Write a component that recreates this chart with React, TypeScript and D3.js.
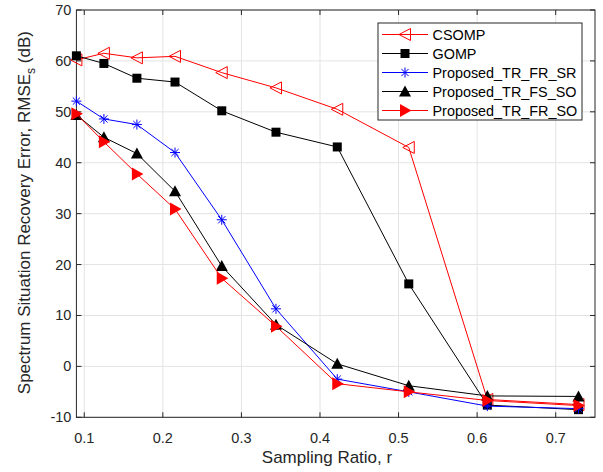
import React, { useEffect, useRef } from 'react'
import * as d3 from 'd3'

// sampling ratios (x positions shared by every curve)
const RATIOS = [0.09, 0.125, 0.167, 0.2155, 0.275, 0.344, 0.422, 0.513, 0.613, 0.729]

const CSOMP = [60.2, 61.5, 60.6, 60.9, 57.7, 54.7, 50.5, 43.0, -6.5, -7.5]
const GOMP = [61.0, 59.5, 56.6, 55.85, 50.2, 46.0, 43.1, 16.2, -7.6, -8.5]
const TR_FR_SR = [52.1, 48.6, 47.5, 42.0, 28.8, 11.3, -2.5, -5.0, -7.8, -8.3]
const TR_FS_SO = [49.4, 45.0, 41.8, 34.4, 19.7, 8.2, 0.5, -3.8, -5.8, -5.9]
const TR_FR_SO = [49.6, 44.1, 37.8, 30.9, 17.3, 7.9, -3.4, -5.0, -6.7, -7.7]

const X_TICKS = [0.1, 0.2, 0.3, 0.4, 0.5, 0.6, 0.7]
const Y_TICKS = [-10, 0, 10, 20, 30, 40, 50, 60, 70]

const SERIES = [
  { name: 'CSOMP', values: CSOMP, color: '#ff0000', marker: 'triLeftOpen' },
  { name: 'GOMP', values: GOMP, color: '#000000', marker: 'square' },
  { name: 'Proposed_TR_FR_SR', values: TR_FR_SR, color: '#0000ff', marker: 'star' },
  { name: 'Proposed_TR_FS_SO', values: TR_FS_SO, color: '#000000', marker: 'triUp' },
  { name: 'Proposed_TR_FR_SO', values: TR_FR_SO, color: '#ff0000', marker: 'triRight' },
]

const TEXT = '#262626'
const GRID = '#e3e3e3'
const FONT = 'Liberation Sans, Arial, Helvetica, sans-serif'

function drawMarker(g: any, kind: string, x: number, y: number, color: string) {
  if (kind === 'square') {
    g.append('rect').attr('x', x - 4.5).attr('y', y - 4.5).attr('width', 9).attr('height', 9).attr('fill', color)
  } else if (kind === 'triUp') {
    g.append('path').attr('d', `M${x},${y - 6}L${x + 6},${y + 5}L${x - 6},${y + 5}Z`).attr('fill', color)
  } else if (kind === 'triRight') {
    g.append('path').attr('d', `M${x + 6.5},${y}L${x - 5},${y - 6.5}L${x - 5},${y + 6.5}Z`).attr('fill', color)
  } else if (kind === 'triLeftOpen') {
    g.append('path').attr('d', `M${x - 6},${y}L${x + 5.5},${y - 6}L${x + 5.5},${y + 6}Z`)
      .attr('fill', 'none').attr('stroke', color).attr('stroke-width', 1)
  } else if (kind === 'star') {
    const r = 5
    const d = r * 0.72
    g.append('path')
      .attr('d', `M${x - r},${y}L${x + r},${y}M${x},${y - r}L${x},${y + r}M${x - d},${y - d}L${x + d},${y + d}M${x - d},${y + d}L${x + d},${y - d}`)
      .attr('stroke', color).attr('stroke-width', 1).attr('fill', 'none')
  }
}

export default function App() {
  const svgRef = useRef<SVGSVGElement>(null)

  useEffect(() => {
    if (!svgRef.current) return
    const W = 603
    const H = 472
    const left = 76.4, right = 595, top = 10, bottom = 417.3

    const svg = d3.select(svgRef.current)
    svg.selectAll('*').remove()
    svg.attr('width', W).attr('height', H)

    const x = d3.scaleLinear().domain([0.09, 0.75]).range([left, right])
    const y = d3.scaleLinear().domain([-10, 70]).range([bottom, top])

    svg.append('rect').attr('width', W).attr('height', H).attr('fill', '#ffffff')

    // grid
    const grid = svg.append('g')
    X_TICKS.forEach(t => {
      grid.append('line').attr('x1', x(t)).attr('x2', x(t)).attr('y1', top).attr('y2', bottom)
        .attr('stroke', GRID).attr('stroke-width', 1)
    })
    Y_TICKS.forEach(t => {
      grid.append('line').attr('x1', left).attr('x2', right).attr('y1', y(t)).attr('y2', y(t))
        .attr('stroke', GRID).attr('stroke-width', 1)
    })

    // axes box + inward ticks (MATLAB style)
    const ax = svg.append('g')
    ax.append('rect').attr('x', left).attr('y', top).attr('width', right - left).attr('height', bottom - top)
      .attr('fill', 'none').attr('stroke', TEXT).attr('stroke-width', 1)
    X_TICKS.forEach(t => {
      ax.append('line').attr('x1', x(t)).attr('x2', x(t)).attr('y1', bottom).attr('y2', bottom - 5).attr('stroke', TEXT)
      ax.append('line').attr('x1', x(t)).attr('x2', x(t)).attr('y1', top).attr('y2', top + 5).attr('stroke', TEXT)
      ax.append('text').attr('x', x(t)).attr('y', bottom + 26).attr('text-anchor', 'middle')
        .attr('fill', TEXT).attr('font-size', 14.5).attr('font-family', FONT).text(d3.format('.1f')(t))
    })
    Y_TICKS.forEach(t => {
      ax.append('line').attr('x1', left).attr('x2', left + 5).attr('y1', y(t)).attr('y2', y(t)).attr('stroke', TEXT)
      ax.append('line').attr('x1', right).attr('x2', right - 5).attr('y1', y(t)).attr('y2', y(t)).attr('stroke', TEXT)
      ax.append('text').attr('x', left - 5).attr('y', y(t) + 5).attr('text-anchor', 'end')
        .attr('fill', TEXT).attr('font-size', 14.5).attr('font-family', FONT).text(String(t))
    })

    // axis labels
    svg.append('text').attr('x', 327).attr('y', 463).attr('text-anchor', 'middle')
      .attr('fill', TEXT).attr('font-size', 17).attr('font-family', FONT).text('Sampling Ratio, r')
    const yl = svg.append('text')
      .attr('transform', `translate(30,${(top + bottom) / 2 - 1}) rotate(-90)`)
      .attr('text-anchor', 'middle').attr('fill', TEXT).attr('font-size', 17).attr('font-family', FONT)
    yl.append('tspan').text('Spectrum Situation Recovery Error, RMSE')
    yl.append('tspan').attr('font-size', 12).attr('dy', 5).text('s')
    yl.append('tspan').attr('dy', -5).text(' (dB)')

    // series
    const line = d3.line<number>().x((_, i) => x(RATIOS[i])).y(d => y(d))
    SERIES.forEach(s => {
      const g = svg.append('g')
      g.append('path').datum(s.values).attr('d', line).attr('fill', 'none')
        .attr('stroke', s.color).attr('stroke-width', 1)
      s.values.forEach((v, i) => drawMarker(g, s.marker, x(RATIOS[i]), y(v), s.color))
    })

    // legend
    const lx = 378, ly = 23, lw = 204, lh = 97
    const lg = svg.append('g')
    lg.append('rect').attr('x', lx).attr('y', ly).attr('width', lw).attr('height', lh)
      .attr('fill', '#ffffff').attr('stroke', TEXT).attr('stroke-width', 1)
    SERIES.forEach((s, i) => {
      const ry = ly + 11.5 + i * 19
      lg.append('line').attr('x1', lx + 4).attr('x2', lx + 50).attr('y1', ry).attr('y2', ry)
        .attr('stroke', s.color).attr('stroke-width', 1)
      drawMarker(lg, s.marker, lx + 27, ry, s.color)
      lg.append('text').attr('x', lx + 54.5).attr('y', ry + 5).attr('fill', '#000000')
        .attr('font-size', 14.4).attr('font-family', FONT).text(s.name)
    })
  }, [])

  return (
    <svg ref={svgRef} style={{ position: 'absolute', left: 0, top: 0, display: 'block' }} />
  )
}
